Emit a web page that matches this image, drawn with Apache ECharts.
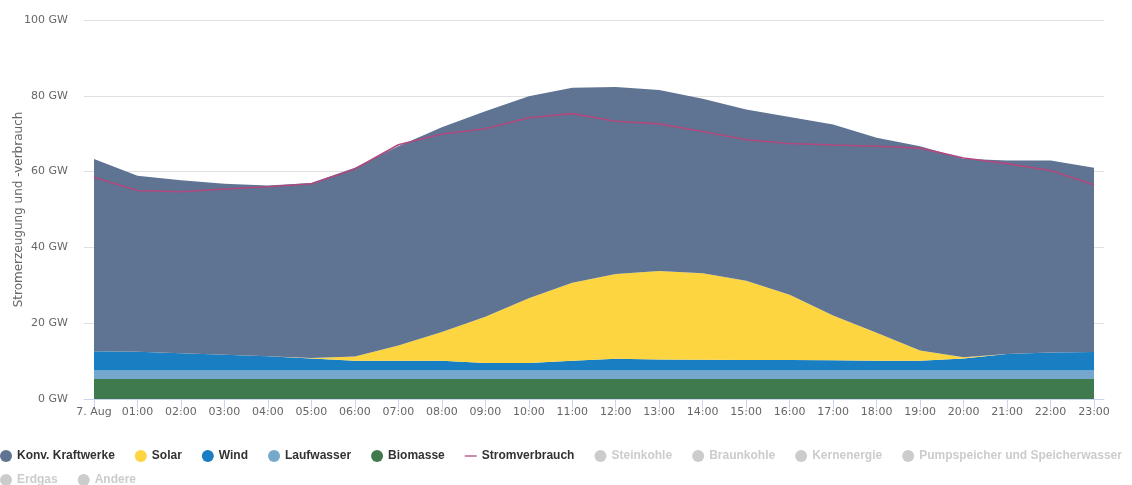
<!DOCTYPE html>
<html>
<head>
<meta charset="utf-8">
<script src="https://cdn.jsdelivr.net/npm/echarts@6/dist/echarts.min.js"></script>
<style>
html,body{margin:0;padding:0;background:#fff;}
#chart{width:1132px;height:485px;}
</style>
</head>
<body>
<div id="chart"></div>
<script>
var hours = ['7. Aug','01:00','02:00','03:00','04:00','05:00','06:00','07:00','08:00','09:00','10:00','11:00','12:00','13:00','14:00','15:00','16:00','17:00','18:00','19:00','20:00','21:00','22:00','23:00'];
var yTicks = [0, 20, 40, 60, 80, 100];

var biomasse   = [5.3,5.3,5.3,5.3,5.3,5.3,5.3,5.3,5.3,5.3,5.3,5.3,5.3,5.3,5.3,5.3,5.3,5.3,5.3,5.3,5.3,5.3,5.3,5.3];
var laufwasser = [2.2,2.2,2.2,2.2,2.2,2.2,2.2,2.2,2.2,2.2,2.2,2.2,2.2,2.2,2.2,2.2,2.2,2.2,2.2,2.2,2.2,2.2,2.2,2.2];
var wind       = [5.1,5.0,4.6,4.2,3.8,3.2,2.6,2.6,2.6,2.0,2.0,2.6,3.1,2.9,2.85,2.8,2.8,2.7,2.6,2.6,3.2,4.4,4.8,4.9];
var solar      = [0,0,0,0,0,0.1,1.1,4.0,7.6,12.2,17.1,20.6,22.4,23.4,22.85,20.9,17.2,11.8,7.4,2.7,0.3,0,0,0];
var konv       = [50.7,46.4,45.6,45.1,45.0,46.2,49.8,52.6,54.0,54.2,53.3,51.4,49.3,47.7,46.0,45.2,46.9,50.4,51.4,53.9,52.4,51.0,50.6,48.6];
var verbrauch  = [58.5,55.0,54.7,55.4,56.0,56.8,60.7,67.1,69.9,71.3,74.2,75.3,73.3,72.6,70.6,68.4,67.4,67.0,66.7,66.2,63.6,62.1,60.3,56.5];

var legendRow1 = ['Konv. Kraftwerke','Solar','Wind','Laufwasser','Biomasse','Stromverbrauch','Steinkohle','Braunkohle','Kernenergie','Pumpspeicher und Speicherwasser'];
var legendRow2 = ['Erdgas','Andere'];
var hiddenSeries = ['Steinkohle','Braunkohle','Kernenergie','Pumpspeicher und Speicherwasser','Erdgas','Andere'];

var colors = {
  'Konv. Kraftwerke':'#5f7393',
  'Solar':'#fdd540',
  'Wind':'#1a7ec2',
  'Laufwasser':'#76a7cc',
  'Biomasse':'#3f7a4e',
  'Stromverbrauch':'#b0497e'
};

function area(name, data){
  return {
    name: name, type: 'line', stack: 'gen', xAxisIndex: 1, yAxisIndex: 1,
    data: data, symbol: 'none', showSymbol: false,
    lineStyle: {width: 0}, itemStyle: {color: colors[name]},
    areaStyle: {color: colors[name], opacity: 1}
  };
}

var series = [
  area('Biomasse', biomasse),
  area('Laufwasser', laufwasser),
  area('Wind', wind),
  area('Solar', solar),
  area('Konv. Kraftwerke', konv),
  {
    name: 'Stromverbrauch', type: 'line', xAxisIndex: 1, yAxisIndex: 1,
    data: verbrauch, symbol: 'none', showSymbol: false, z: 5,
    lineStyle: {width: 1.6, color: colors['Stromverbrauch']},
    itemStyle: {color: colors['Stromverbrauch']}
  }
];
hiddenSeries.forEach(function(n){
  series.push({name: n, type: 'line', xAxisIndex: 1, yAxisIndex: 1, data: [], symbol: 'none', itemStyle: {color: '#999'}});
});

var selected = {};
hiddenSeries.forEach(function(n){ selected[n] = false; });

function legendItems(list){
  return list.map(function(n){
    return n === 'Stromverbrauch'
      ? {name: n, icon: 'path://M0,0L14,0L14,1.5L0,1.5Z'}
      : {name: n, icon: 'circle'};
  });
}

var legendText = {color: '#333', fontSize: 12, fontWeight: 'bold', fontFamily: 'Liberation Sans, Arial, sans-serif'};

var option = {
  animation: false,
  backgroundColor: '#fff',
  grid: [
    {left: 84, right: 28, top: 20, bottom: 86, containLabel: false, outerBoundsMode: 'none'},
    {left: 94, right: 38, top: 20, bottom: 86, containLabel: false, outerBoundsMode: 'none'}
  ],
  legend: [
    {data: legendItems(legendRow1), selected: selected, left: 0, top: 450, itemWidth: 12, itemHeight: 12, itemGap: 20, padding: 0, textStyle: legendText, inactiveColor: '#ccc', symbolKeepAspect: true},
    {data: legendItems(legendRow2), selected: selected, left: 0, top: 474, itemWidth: 12, itemHeight: 12, itemGap: 20, padding: 0, textStyle: legendText, inactiveColor: '#ccc', symbolKeepAspect: true}
  ],
  xAxis: [
    {gridIndex: 0, type: 'value', min: 0, max: 1, axisLine: {show: true, lineStyle: {color: '#ccd6eb'}}, axisTick: {show: false}, axisLabel: {show: false}, splitLine: {show: false}},
    {gridIndex: 1, type: 'category', data: hours, boundaryGap: false,
     axisLine: {show: false}, axisTick: {show: true, length: 10, interval: 0, lineStyle: {color: '#ccd6eb'}},
     axisLabel: {interval: 0, color: '#666', fontSize: 11, fontFamily: 'DejaVu Sans', margin: 8},
     splitLine: {show: false}}
  ],
  yAxis: [
    {gridIndex: 0, type: 'value', min: yTicks[0], max: yTicks[yTicks.length-1], interval: 20,
     name: 'Stromerzeugung und -verbrauch', nameLocation: 'middle', nameGap: 59, nameRotate: 90, nameMoveOverlap: false,
     nameTextStyle: {color: '#666', fontSize: 12, fontFamily: 'DejaVu Sans'},
     axisLine: {show: false}, axisTick: {show: false},
     axisLabel: {formatter: '{value} GW', color: '#666', fontSize: 11, fontFamily: 'DejaVu Sans', margin: 16},
     splitLine: {show: true, lineStyle: {color: '#e0e0e0', width: 1}}},
    {gridIndex: 1, type: 'value', min: 0, max: 100, show: false, splitLine: {show: false}}
  ],
  series: series
};

var chart = echarts.init(document.getElementById('chart'), null, {renderer: 'canvas'});
chart.setOption(option);
</script>
</body>
</html>
